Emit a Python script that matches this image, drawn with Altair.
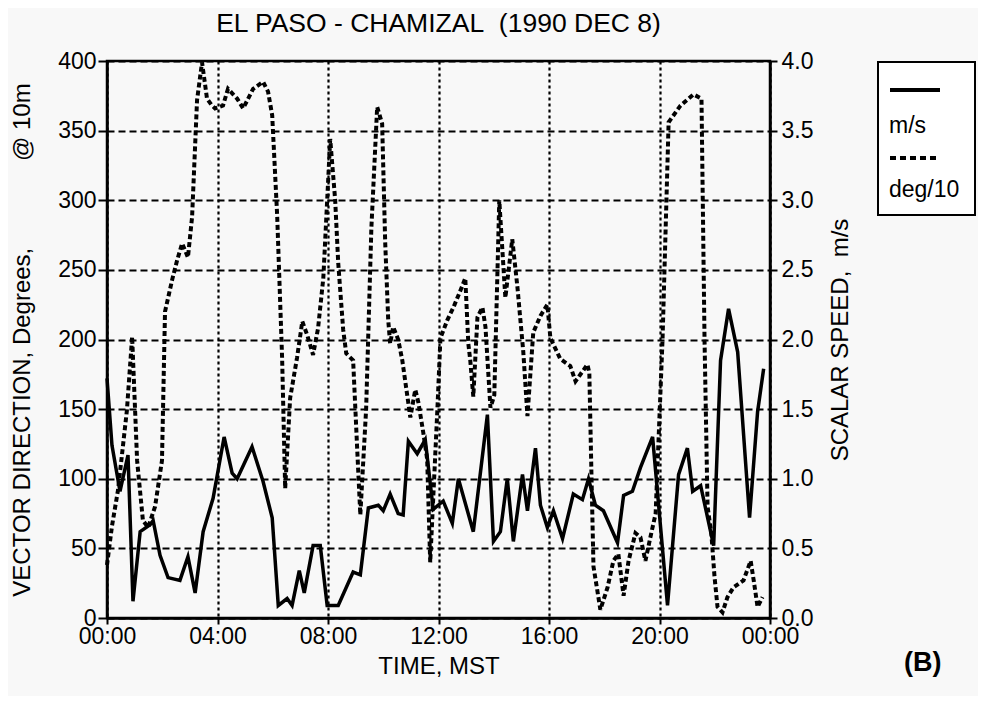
import altair as alt
import pandas as pd

# ---- data ----
speed_hours = [0.0, 0.18, 0.47, 0.76, 0.94, 1.2, 1.56, 1.67, 1.92, 2.21, 2.64, 2.93, 3.19, 3.48, 3.84,
               4.24, 4.53, 4.71, 5.25, 5.65, 5.98, 6.2, 6.52, 6.7, 6.96, 7.14, 7.46, 7.72, 7.97, 8.37,
               8.91, 9.17, 9.46, 9.82, 10.0, 10.25, 10.54, 10.72, 10.91, 11.23, 11.52, 11.81, 12.17,
               12.5, 12.72, 13.26, 13.77, 13.99, 14.24, 14.49, 14.71, 15.04, 15.22, 15.51, 15.69,
               15.94, 16.16, 16.49, 16.88, 17.21, 17.43, 17.68, 17.97, 18.48, 18.7, 19.02, 19.31,
               19.75, 20.29, 20.69, 21.01, 21.2, 21.49, 21.96, 22.21, 22.5, 22.83, 23.26, 23.55, 23.77]
speed_ms = [1.72, 1.24, 0.91, 1.17, 0.12, 0.62, 0.67, 0.70, 0.45, 0.29, 0.27, 0.44, 0.18, 0.62, 0.86,
            1.30, 1.04, 1.00, 1.23, 0.98, 0.72, 0.09, 0.14, 0.09, 0.34, 0.18, 0.52, 0.52, 0.09, 0.09,
            0.33, 0.31, 0.79, 0.81, 0.77, 0.89, 0.75, 0.74, 1.27, 1.18, 1.28, 0.78, 0.84,
            0.68, 1.00, 0.62, 1.46, 0.55, 0.62, 1.00, 0.55, 1.03, 0.77, 1.22, 0.81,
            0.65, 0.77, 0.57, 0.89, 0.85, 1.00, 0.81, 0.77, 0.54, 0.88, 0.91, 1.08,
            1.30, 0.09, 1.03, 1.22, 0.91, 0.95, 0.52, 1.85, 2.22, 1.91, 0.72, 1.48, 1.79]

dir_hours = [0.0, 0.18, 0.4, 0.72, 0.91, 1.09, 1.3, 1.49, 1.74, 1.99, 2.1, 2.36, 2.54, 2.72, 2.93,
             3.08, 3.26, 3.44, 3.62, 3.8, 3.91, 4.2, 4.38, 4.71, 4.93, 5.29, 5.65, 5.83, 5.98, 6.16,
             6.34, 6.45, 6.63, 6.88, 7.07, 7.25, 7.46, 7.64, 7.83, 8.08, 8.26, 8.37, 8.55, 8.66,
             8.91, 9.06, 9.17, 9.38, 9.57, 9.78, 9.96, 10.07, 10.18, 10.25, 10.36, 10.54, 10.69,
             10.91, 10.98, 11.16, 11.27, 11.45, 11.59, 11.7, 11.96, 12.07, 12.32, 12.54, 12.79,
             12.97, 13.08, 13.15, 13.26, 13.41, 13.59, 13.7, 13.88, 14.02, 14.2, 14.42, 14.67,
             14.86, 14.96, 15.07, 15.22, 15.43, 15.69, 15.94, 16.05, 16.41, 16.77, 16.96, 17.39,
             17.46, 17.54, 17.61, 17.86, 18.12, 18.33, 18.51, 18.7, 18.88, 19.13, 19.31, 19.49,
             19.67, 19.86, 20.11, 20.33, 20.76, 21.23, 21.52, 21.63, 21.74, 21.88, 21.99, 22.1,
             22.28, 22.46, 22.68, 23.04, 23.3, 23.41, 23.55, 23.73]
dir_deg = [38, 66, 92, 149, 202, 113, 70, 65, 80, 113, 220, 243, 257, 269, 259,
           288, 372, 399, 373, 368, 366, 368, 380, 373, 366, 380, 385, 378, 361, 289,
           186, 93, 158, 187, 213, 203, 189, 208, 244, 344, 300, 255, 207, 190,
           185, 120, 74, 150, 280, 367, 355, 270, 214, 197, 209, 200, 185,
           154, 144, 164, 155, 133, 114, 40, 150, 201, 214, 223, 235,
           244, 197, 185, 159, 216, 223, 209, 151, 160, 300, 230, 272,
           237, 215, 191, 145, 205, 217, 225, 201, 186, 181, 170, 182,
           176, 100, 37, 6, 22, 41, 46, 16, 41, 61, 58, 41,
           58, 75, 200, 356, 368, 376, 373, 200, 80, 60, 30, 8,
           4, 15, 22, 27, 41, 27, 8, 15]

x_ticks = [0, 4, 8, 12, 16, 20, 24]
left_ticks = [0, 50, 100, 150, 200, 250, 300, 350, 400]
right_ticks = [0.0, 0.5, 1.0, 1.5, 2.0, 2.5, 3.0, 3.5, 4.0]

NB = "\u00a0"
title_text = "EL PASO - CHAMIZAL" + NB + NB + "(1990 DEC 8)"
left_title = "VECTOR DIRECTION, Degrees," + NB * 13 + "@ 10m"
right_title = "SCALAR SPEED," + NB * 2 + "m/s"
x_title = "TIME, MST"
legend_labels = ["m/s", "deg/10"]
panel_tag = "(B)"

speed_df = pd.DataFrame({"hour": speed_hours, "speed": speed_ms})
dir_df = pd.DataFrame({"hour": dir_hours, "direction": dir_deg})
one = pd.DataFrame({"k": [0]})

W, H = 663, 557
FONT = "Liberation Sans"

x_enc = alt.X(
    "hour:Q",
    scale=alt.Scale(domain=[0, 24], nice=False, zero=False),
    axis=alt.Axis(
        values=x_ticks,
        labelExpr="(datum.value < 10 || datum.value == 24 ? '0' : '') + (datum.value % 24) + ':00'",
        labelFlush=False,
        labelOverlap=False,
        title=x_title,
        grid=True,
        gridDash=[3, 3],
        gridColor="black",
        gridWidth=2.2,
        gridOpacity=1,
        tickSize=6,
        labelPadding=1,
        titlePadding=6,
    ),
)

dir_line = alt.Chart(dir_df).mark_line(
    color="black", strokeWidth=4, strokeDash=[5, 3]
).encode(
    x=x_enc,
    y=alt.Y(
        "direction:Q",
        scale=alt.Scale(domain=[0, 400], nice=False),
        axis=alt.Axis(
            orient="left",
            values=left_ticks,
            title=left_title,
            grid=True,
            gridDash=[7, 4],
            gridColor="black",
            gridWidth=2.2,
            gridOpacity=1,
            tickSize=9,
            labelPadding=2,
            titlePadding=23,
        ),
    ),
)

speed_line = alt.Chart(speed_df).mark_line(color="black", strokeWidth=3.5).encode(
    x=alt.X("hour:Q"),
    y=alt.Y(
        "speed:Q",
        scale=alt.Scale(domain=[0, 4], nice=False),
        axis=alt.Axis(
            orient="right",
            values=right_ticks,
            format=".1f",
            title=right_title,
            grid=False,
            tickSize=7,
            labelPadding=4,
            titleAngle=270,
            titleBaseline="top",
            titlePadding=16,
        ),
    ),
)

# manual legend box (symbol above label, as in the reference)
leg_box = alt.Chart(one).mark_rect(fill="white", stroke="black", strokeWidth=2).encode(
    x=alt.value(771), x2=alt.value(868), y=alt.value(1), y2=alt.value(154)
)
leg_solid = alt.Chart(one).mark_rule(color="black", strokeWidth=4).encode(
    x=alt.value(783), x2=alt.value(833), y=alt.value(29)
)
leg_dash = alt.Chart(one).mark_rule(color="black", strokeWidth=4, strokeDash=[6, 4]).encode(
    x=alt.value(783), x2=alt.value(833), y=alt.value(97)
)
leg_t1 = alt.Chart(one).mark_text(
    text=legend_labels[0], align="left", baseline="alphabetic", fontSize=23, font=FONT, color="black"
).encode(x=alt.value(782), y=alt.value(72))
leg_t2 = alt.Chart(one).mark_text(
    text=legend_labels[1], align="left", baseline="alphabetic", fontSize=23, font=FONT, color="black"
).encode(x=alt.value(782), y=alt.value(136))
tag = alt.Chart(one).mark_text(
    text=panel_tag, align="left", baseline="alphabetic", fontSize=27, fontWeight="bold", font=FONT, color="black"
).encode(x=alt.value(797), y=alt.value(610))

chart = (
    alt.layer(dir_line, speed_line, leg_box, leg_solid, leg_dash, leg_t1, leg_t2, tag)
    .resolve_scale(y="independent")
    .properties(
        width=W,
        height=H,
        background="#f8f8f8",
        padding={"left": 99, "top": 53, "right": 208, "bottom": 78},
        autosize=alt.AutoSizeParams(type="none"),
        title=alt.TitleParams(
            text=title_text, fontSize=26.5, font=FONT, fontWeight="normal", anchor="middle", offset=13, color="black"
        ),
    )
    .configure_view(stroke="black", strokeWidth=2.5)
    .configure_axis(
        domainColor="black",
        domainWidth=2.5,
        tickColor="black",
        tickWidth=2,
        labelColor="black",
        labelFont=FONT,
        labelFontSize=23,
        titleFont=FONT,
        titleFontSize=24,
        titleFontWeight="normal",
        titleColor="black",
    )
)

chart.save("out.html", embed_options={"renderer": "svg", "actions": False})
